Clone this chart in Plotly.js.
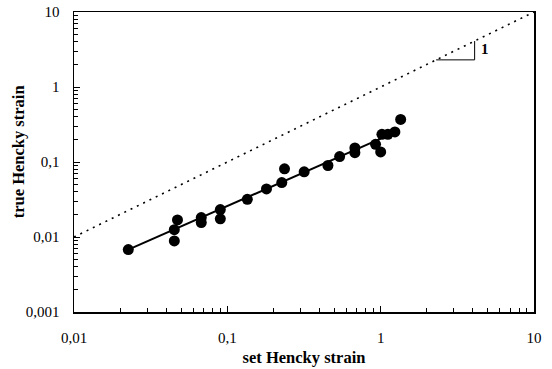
<!DOCTYPE html>
<html>
<head>
<meta charset="utf-8">
<script src="https://cdn.plot.ly/plotly-3.0.1.min.js"></script>
<style>
  html, body { margin: 0; padding: 0; background: #fff; }
  #chart { width: 552px; height: 369px; }
</style>
</head>
<body>
<div id="chart"></div>
<script>
// Measured data: set vs true Hencky strain
const setStrain = [0.0226, 0.0473, 0.0451, 0.0451, 0.0676, 0.0676, 0.090, 0.090, 0.135, 0.180,
                   0.2265, 0.236, 0.317, 0.453, 0.540, 0.679, 0.679, 0.926, 1.0, 1.019,
                   1.114, 1.238, 1.35];
const trueStrain = [0.0068, 0.0169, 0.0125, 0.00885, 0.01815, 0.0156, 0.0232, 0.0175, 0.0318, 0.0437,
                    0.0531, 0.081, 0.074, 0.0898, 0.118, 0.154, 0.133, 0.172, 0.136, 0.234,
                    0.234, 0.252, 0.369];

// Fitted line
const fitX = [0.0226, 1.0];
const fitY = [0.0068, 0.205];

// Identity (slope 1) line
const idX = [0.01, 10];
const idY = [0.01, 10];

// Slope triangle
const triX = [2.3, 4.1, 4.1];
const triY = [2.3, 2.3, 4.1];
const triLabel = "1";
const triLabelPos = [4.8, 3.2];

// Tick labels
const xTickVals = [0.01, 0.1, 1, 10];
const xTickText = ["0,01", "0,1", "1", "10"];
const yTickVals = [0.001, 0.01, 0.1, 1, 10];
const yTickText = ["0,001", "0,01", "0,1", "1", "10"];

const serif = "Liberation Serif, Times New Roman, serif";

const traces = [
  {x: idX, y: idY, mode: "lines", line: {color: "#000", width: 1.6, dash: "2px,5px"}, hoverinfo: "skip"},
  {x: triX, y: triY, mode: "lines", line: {color: "#000", width: 1}, hoverinfo: "skip"},
  {x: fitX, y: fitY, mode: "lines", line: {color: "#000", width: 2}},
  {x: setStrain, y: trueStrain, mode: "markers", marker: {color: "#000", size: 11}}
];

const axisCommon = {
  type: "log",
  showgrid: false,
  zeroline: false,
  showline: true,
  linecolor: "#000",
  linewidth: 1.5,
  mirror: true,
  ticks: "inside",
  ticklen: 6,
  tickwidth: 1,
  tickcolor: "#000",
  tickmode: "array",
  minor: {ticks: "inside", ticklen: 4, tickwidth: 1, tickcolor: "#000", dtick: "D1", showgrid: false},
  tickfont: {family: serif, size: 15, color: "#000"}
};

const layout = {
  width: 552, height: 369,
  margin: {l: 74, r: 18, t: 12, b: 57},
  paper_bgcolor: "#fff",
  plot_bgcolor: "#fff",
  showlegend: false,
  xaxis: Object.assign({}, axisCommon, {
    range: [-2, 1],
    tickvals: xTickVals, ticktext: xTickText,
    ticklabelstandoff: 11,
    title: {text: "<b>set Hencky strain</b>", font: {family: serif, size: 16.5, color: "#000"}, standoff: 7}
  }),
  yaxis: Object.assign({}, axisCommon, {
    range: [-3, 1],
    tickvals: yTickVals, ticktext: yTickText,
    ticklabelstandoff: 10
  }),
  annotations: [
    {x: Math.log10(triLabelPos[0]), y: Math.log10(triLabelPos[1]), xref: "x", yref: "y",
     text: "<b>" + triLabel + "</b>", showarrow: false, font: {family: serif, size: 15, color: "#000"}},
    {x: -0.12, y: 0.535, xref: "paper", yref: "paper", xanchor: "center", yanchor: "middle", textangle: -90,
     text: "<b>true Hencky strain</b>", showarrow: false, font: {family: serif, size: 16.5, color: "#000"}}
  ]
};

Plotly.newPlot("chart", traces, layout, {displayModeBar: false, staticPlot: true});
</script>
</body>
</html>
